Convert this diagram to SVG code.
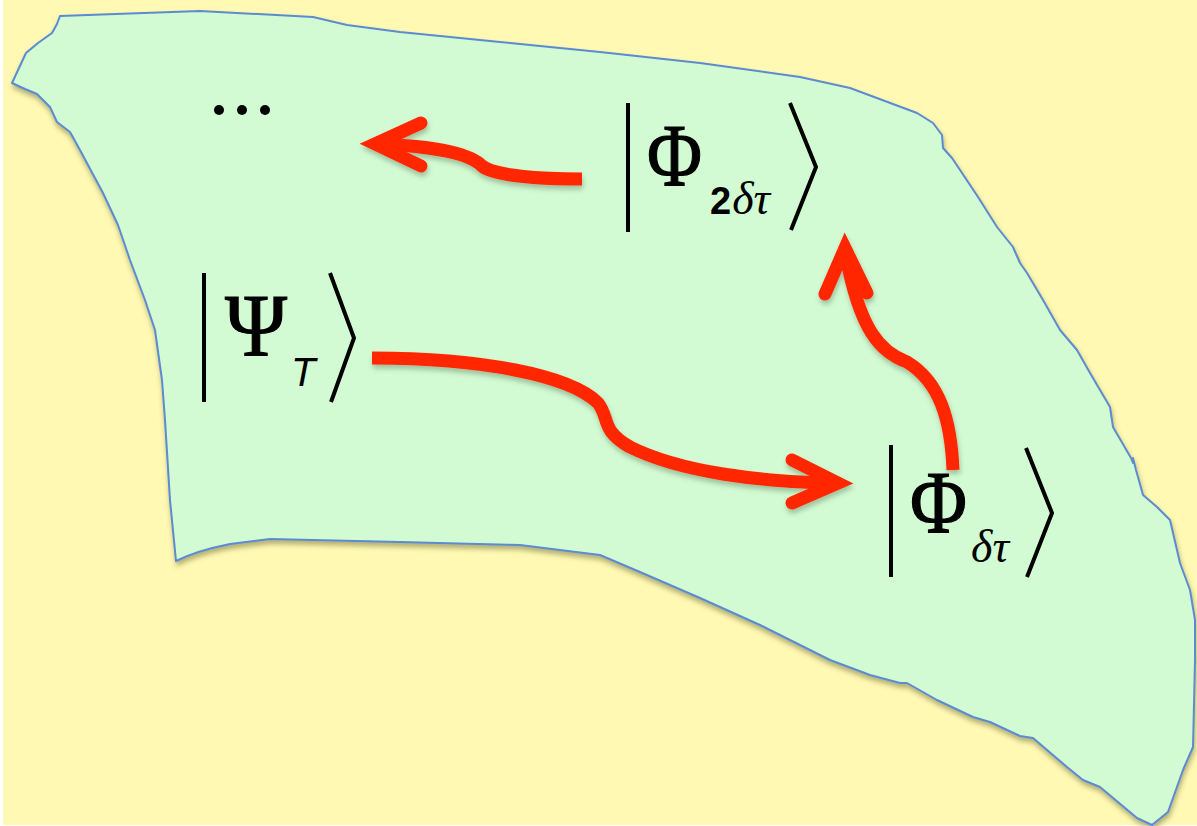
<svg xmlns="http://www.w3.org/2000/svg" width="1197" height="826" viewBox="0 0 1197 826">
<defs>
<filter id="sh" x="-10%" y="-10%" width="120%" height="120%">
<feDropShadow dx="1" dy="4" stdDeviation="2.5" flood-color="#5a5a20" flood-opacity="0.45"/>
</filter>
<filter id="ash" x="-10%" y="-10%" width="120%" height="130%">
<feDropShadow dx="1" dy="4" stdDeviation="2.5" flood-color="#3a5a3a" flood-opacity="0.35"/>
</filter>
</defs>
<style>
.arr{fill:none;stroke:#FF2800;stroke-width:13}
.head{fill:none;stroke:#FF2800;stroke-width:13;stroke-linecap:round;stroke-linejoin:miter;stroke-miterlimit:10}
.br{fill:none;stroke:#000;stroke-width:4}
.big{font-family:"Liberation Serif","DejaVu Serif",serif;font-size:88px;fill:#000;stroke:#000;stroke-width:1.2}
.sub{font-family:"Liberation Serif","DejaVu Serif",serif;font-style:italic;font-size:46px;fill:#000}
.subs{font-family:"Liberation Sans","DejaVu Sans",sans-serif;font-size:38px;font-weight:bold;fill:#000}
</style>
<rect x="0" y="0" width="1197" height="826" fill="#ffffff"/>
<rect x="3" y="0" width="1194" height="825" fill="#FFF9B4"/>
<g id="region" filter="url(#sh)">
<path d="M60,16 L200,11 L313,17 L347,25 L400,32 L500,42 L600,52 L700,63 L800,77 L850,88 L917,113 L933,123 L942,135 L943,148 L952,158 L978,197 L997,227 L1013,247 L1020,263 L1027,273 L1043,300 L1060,330 L1077,350 L1090,373 L1110,407 L1113,427 L1131,458 L1133,463 L1133,458 L1136,470 L1143,495 L1157,507 L1170,520 L1180,563 L1190,590 L1195,620 L1195,660 L1193,747 L1183,770 L1168,812 L1152,825 L1137,818 L1100,787 L1083,780 L1067,767 L1033,738 L1020,736 L990,722 L973,717 L937,700 L907,683 L900,683 L870,675 L830,660 L760,625 L700,598 L640,572 L600,555 L520,545 L400,542 L270,539 L230,544 C 210,548 190,554 176,561 L170,500 L165,420 L162,380 L155,330 L145,300 L130,260 L118,225 L103,193 L80,150 L70,132 L57,122 L50,107 L37,94 L25,89 L12,83 L19,68 L26,53 L38,43 L52,33 L57,24 Z" fill="#D3FBD3" stroke="#5B8BCF" stroke-width="2" stroke-linejoin="round"/>
</g>
<g id="connectors" filter="url(#ash)">
<g id="arrow-psi-phi1">
<path class="arr" d="M372,358 C 480,358 570,375 598,403 C 610,418 600,430 630,447 C 680,472 760,482 833,483"/>
<polyline class="head" points="792,460 838,483 792,503"/>
</g>
<g id="arrow-phi1-phi2">
<path class="arr" d="M953,470 C 951,420 940,382 907,362 C 880,352 860,330 846,256"/>
<polyline class="head" points="825,294 845,248 867,293"/>
</g>
<g id="arrow-phi2-dots">
<path class="arr" d="M582,179 C 540,179 495,176 482,166 C 470,153 430,146 380,144"/>
<polyline class="head" points="421,123 375,144 421,166"/>
</g>
</g>
<g id="node-dots">
<circle cx="219" cy="110" r="5"/>
<circle cx="242" cy="110" r="5"/>
<circle cx="265" cy="110" r="5"/>
</g>
<g id="node-psi">
<line class="br" x1="204" y1="273" x2="204" y2="402"/>
<polyline class="br" points="330,273 354,338 331,402"/>
<text class="big" x="225" y="355" textLength="62" lengthAdjust="spacingAndGlyphs">Ψ</text>
<text x="291" y="386" style="font-family:'Liberation Sans','DejaVu Sans',sans-serif;font-style:italic;font-size:40px;fill:#000">T</text>
</g>
<g id="node-phi2">
<line class="br" x1="628" y1="103" x2="628" y2="232"/>
<polyline class="br" points="790,103 816,167 791,230"/>
<text class="big" x="647" y="185" textLength="55" lengthAdjust="spacingAndGlyphs">Φ</text>
<text x="710" y="214"><tspan class="subs">2</tspan><tspan class="sub" dx="1">δτ</tspan></text>
</g>
<g id="node-phi1">
<line class="br" x1="891" y1="445" x2="891" y2="577"/>
<polyline class="br" points="1026,448 1052,513 1027,577"/>
<text class="big" x="910" y="532" textLength="57" lengthAdjust="spacingAndGlyphs">Φ</text>
<text class="sub" x="971" y="562">δτ</text>
</g>
</svg>
